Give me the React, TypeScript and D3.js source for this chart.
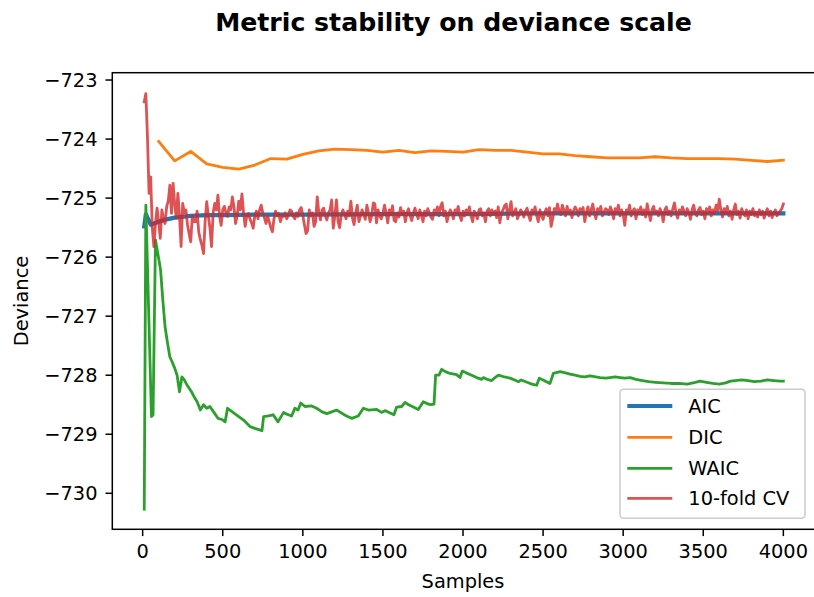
import React from "react";
import * as d3 from "d3";

const title = "Metric stability on deviance scale";
const xLabel = "Samples";
const yLabel = "Deviance";
const xTicks = [0, 500, 1000, 1500, 2000, 2500, 3000, 3500, 4000];
const yTicks = [-723, -724, -725, -726, -727, -728, -729, -730];
const seriesNames = ["AIC", "DIC", "WAIC", "10-fold CV"];
const seriesColors = ["#1f77b4", "#ff7f0e", "#2ca02c", "#d62728"];

const aicSamples = [10, 20, 50, 100, 150, 200, 300, 400, 500, 700, 1000, 1500, 2000, 2500, 3000, 3500, 4000];
const aicValues = [-725.48, -725.27, -725.45, -725.40, -725.36, -725.33, -725.30, -725.29, -725.29, -725.28, -725.28, -725.27, -725.27, -725.26, -725.26, -725.26, -725.26];

const dicSamples = d3.range(100, 4001, 100);
const dicValues = [
  -724.04, -724.37, -724.21, -724.42, -724.48, -724.51, -724.44, -724.33, -724.34, -724.26,
  -724.20, -724.17, -724.18, -724.19, -724.22, -724.19, -724.23, -724.20, -724.21, -724.22,
  -724.18, -724.19, -724.19, -724.22, -724.25, -724.25, -724.28, -724.30, -724.32, -724.32,
  -724.32, -724.30, -724.32, -724.33, -724.33, -724.33, -724.34, -724.36, -724.38, -724.36,
];

const waicSamples = [
  10, 20, 55, 65, 80, 105, 112, 125, 140, 155, 170, 185, 200, 215, 230, 245, 260, 280, 305, 320,
  340, 360, 380, 400, 420, 445, 470, 495, 515, 530, 560, 600, 630, 670, 710, 745, 755, 785, 815, 845,
  880, 900, 930, 950, 970, 987, 1013, 1055, 1086, 1120, 1150, 1180, 1211, 1253, 1280, 1305, 1346, 1378, 1409, 1461,
  1492, 1513, 1545, 1569, 1586, 1617, 1638, 1660, 1690, 1721, 1752, 1784, 1800, 1819, 1829, 1850, 1867, 1890, 1919, 1960,
  1981, 1996, 2020, 2054, 2085, 2117, 2127, 2150, 2179, 2200, 2221, 2260, 2294, 2330, 2346, 2363, 2400, 2430, 2460, 2476,
  2500, 2543, 2564, 2606, 2640, 2668, 2700, 2731, 2760, 2793, 2830, 2856, 2890, 2918, 2950, 2981, 3010, 3044, 3080, 3120,
  3160, 3200, 3250, 3300, 3350, 3400, 3450, 3480, 3520, 3560, 3600, 3640, 3670, 3700, 3740, 3780, 3820, 3860, 3900, 3940,
  3980, 4000,
];
const waicValues = [
  -730.27, -725.12, -728.70, -728.67, -725.71, -726.10, -726.22, -726.70, -727.18, -727.45, -727.69, -727.78, -727.88, -728.00, -728.28, -728.03, -728.08, -728.18, -728.28, -728.36,
  -728.45, -728.59, -728.50, -728.56, -728.53, -728.63, -728.73, -728.75, -728.79, -728.56, -728.62, -728.70, -728.76, -728.87, -728.91, -728.94, -728.70, -728.69, -728.67, -728.79,
  -728.63, -728.66, -728.69, -728.56, -728.59, -728.47, -728.53, -728.52, -728.56, -728.62, -728.65, -728.62, -728.59, -728.66, -728.70, -728.73, -728.69, -728.56, -728.59, -728.58,
  -728.63, -728.60, -728.64, -728.67, -728.54, -728.53, -728.46, -728.50, -728.54, -728.58, -728.45, -728.49, -728.50, -728.49, -728.00, -728.00, -727.90, -727.94, -727.97, -727.99,
  -728.04, -727.93, -727.96, -728.00, -728.04, -728.07, -728.04, -728.07, -728.09, -728.04, -728.00, -728.03, -728.05, -728.09, -728.11, -728.08, -728.12, -728.15, -728.17, -728.05,
  -728.08, -728.14, -727.97, -727.94, -727.96, -727.98, -728.00, -728.02, -728.03, -728.01, -728.03, -728.04, -728.05, -728.04, -728.03, -728.04, -728.05, -728.04, -728.07, -728.09,
  -728.11, -728.12, -728.13, -728.14, -728.14, -728.15, -728.12, -728.10, -728.12, -728.14, -728.15, -728.13, -728.10, -728.09, -728.08, -728.09, -728.11, -728.10, -728.08, -728.09,
  -728.10, -728.10,
];

const cvSamples = d3.range(10, 4001, 10);
const cvValues = [
  -723.37, -723.23, -723.96, -724.92, -724.64, -725.50, -725.82, -725.43, -725.17, -725.40,
  -725.68, -725.20, -725.35, -725.43, -725.14, -725.05, -724.78, -725.26, -724.75, -725.10,
  -725.34, -724.92, -725.30, -725.82, -725.09, -725.25, -725.20, -725.45, -725.60, -725.74,
  -725.30, -725.40, -725.40, -725.22, -725.57, -725.70, -725.80, -725.94, -725.40, -725.06,
  -725.30, -725.50, -725.82, -725.25, -725.09, -725.20, -724.95, -725.30, -725.46, -725.20,
  -725.14, -725.25, -725.31, -725.15, -725.20, -724.98, -725.15, -725.43, -725.30, -725.05,
  -725.20, -724.93, -725.25, -725.48, -725.30, -725.26, -725.35, -725.42, -725.51, -725.30,
  -725.22, -725.35, -725.20, -725.12, -725.25, -725.33, -725.43, -725.30, -725.40, -725.50,
  -725.57, -725.35, -725.22, -725.30, -725.26, -725.40, -725.30, -725.31, -725.25, -725.35,
  -725.28, -725.20, -725.22, -725.31, -725.35, -725.25, -725.31, -725.20, -725.16, -725.30,
  -725.45, -725.60, -725.55, -725.20, -725.30, -725.25, -725.48, -725.40, -724.98, -725.25,
  -725.37, -725.20, -725.17, -725.30, -725.37, -725.25, -725.20, -725.03, -725.51, -725.30,
  -725.03, -725.40, -725.50, -725.28, -725.20, -725.27, -725.35, -725.22, -725.30, -725.05,
  -725.34, -725.45, -725.25, -725.12, -725.40, -725.30, -725.20, -725.28, -725.36, -725.12,
  -725.25, -725.40, -725.30, -725.08, -725.10, -725.42, -725.20, -725.30, -725.35, -725.25,
  -725.12, -725.25, -725.42, -725.20, -725.28, -725.13, -725.38, -725.40, -725.25, -725.32,
  -725.16, -725.28, -725.22, -725.40, -725.25, -725.18, -725.30, -725.38, -725.25, -725.17,
  -725.26, -725.35, -725.20, -725.28, -725.40, -725.22, -725.30, -725.18, -725.25, -725.32,
  -725.36, -725.20, -725.25, -725.15, -725.30, -725.14, -725.08, -725.30, -725.22, -725.40,
  -725.28, -725.20, -725.25, -725.35, -725.20, -725.25, -725.14, -725.30, -725.38, -725.22,
  -725.30, -725.20, -725.26, -725.15, -725.30, -725.40, -725.22, -725.28, -725.35, -725.20,
  -725.18, -725.30, -725.25, -725.40, -725.22, -725.18, -725.30, -725.20, -725.27, -725.22,
  -725.33, -725.15, -725.42, -725.25, -725.20, -725.13, -725.10, -725.35, -725.20, -725.06,
  -725.30, -725.24, -725.18, -725.35, -725.28, -725.20, -725.24, -725.32, -725.22, -725.17,
  -725.30, -725.38, -725.20, -725.26, -725.15, -725.30, -725.40, -725.20, -725.30, -725.36,
  -725.25, -725.18, -725.30, -725.16, -725.48, -725.35, -725.18, -725.24, -725.10, -725.22,
  -725.28, -725.12, -725.20, -725.30, -725.14, -725.25, -725.20, -725.33, -725.22, -725.15,
  -725.20, -725.30, -725.18, -725.22, -725.16, -725.40, -725.25, -725.15, -725.30, -725.20,
  -725.10, -725.25, -725.35, -725.18, -725.22, -725.14, -725.30, -725.24, -725.18, -725.20,
  -725.28, -725.15, -725.22, -725.35, -725.18, -725.24, -725.12, -725.30, -725.20, -725.28,
  -725.46, -725.20, -725.25, -725.12, -725.30, -725.22, -725.18, -725.35, -725.20, -725.25,
  -725.15, -725.28, -725.20, -725.32, -725.10, -725.24, -725.38, -725.20, -725.14, -725.26,
  -725.22, -725.30, -725.18, -725.25, -725.40, -725.20, -725.15, -725.28, -725.22, -725.30,
  -725.18, -725.08, -725.25, -725.34, -725.20, -725.26, -725.15, -725.22, -725.30, -725.18,
  -725.24, -725.36, -725.20, -725.12, -725.25, -725.30, -725.20, -725.16, -725.28, -725.22,
  -725.35, -725.18, -725.25, -725.15, -725.30, -725.20, -725.26, -725.12, -725.22, -725.02,
  -725.20, -725.32, -725.18, -725.25, -725.14, -725.30, -725.22, -725.36, -725.20, -725.10,
  -725.28, -725.22, -725.34, -725.18, -725.25, -725.30, -725.20, -725.35, -725.22, -725.28,
  -725.18, -725.30, -725.24, -725.32, -725.20, -725.28, -725.22, -725.34, -725.25, -725.18,
  -725.30, -725.22, -725.33, -725.25, -725.20, -725.30, -725.26, -725.22, -725.18, -725.10,
];

const W = 814;
const H = 597;
const FONT = "DejaVu Sans, sans-serif";
const FS = 19.4;

export default function App() {
  const left = 112.3, right = 815.3, top = 72.7, bottom = 529.3;
  const x = d3.scaleLinear().domain([-189.5, 4199.5]).range([left, right]);
  const y = d3.scaleLinear().domain([-730.61, -722.876]).range([bottom, top]);

  const mk = (xs: number[], vs: number[]) =>
    d3.line<number>().x((_, i) => x(xs[i])).y((v) => y(v))(vs) || "";

  const series = [
    { d: mk(aicSamples, aicValues), w: 4.2, op: 1 },
    { d: mk(dicSamples, dicValues), w: 2.8, op: 1 },
    { d: mk(waicSamples, waicValues), w: 2.8, op: 1 },
    { d: mk(cvSamples, cvValues), w: 2.8, op: 0.8 },
  ];

  const legendY = [406, 437.3, 468.3, 498.3];

  return (
    <svg width={W} height={H} style={{ position: "absolute", left: 0, top: 0, background: "#fff" }} fontFamily={FONT}>
      <rect x={0} y={0} width={W} height={H} fill="#fff" />
      <defs>
        <clipPath id="plotclip">
          <rect x={left} y={top} width={right - left} height={bottom - top} />
        </clipPath>
      </defs>
      <g clipPath="url(#plotclip)">
        {series.map((s, i) => (
          <path key={i} d={s.d} fill="none" stroke={seriesColors[i]} strokeWidth={s.w} strokeOpacity={s.op} strokeLinejoin="round" strokeLinecap="square" />
        ))}
      </g>
      <rect x={left} y={top} width={right - left} height={bottom - top} fill="none" stroke="#000" strokeWidth={1.5} />
      {xTicks.map((t) => (
        <g key={t}>
          <line x1={x(t)} x2={x(t)} y1={bottom} y2={bottom + 6.8} stroke="#000" strokeWidth={1.5} />
          <text x={x(t)} y={557.5} textAnchor="middle" fontSize={FS} fill="#000">{t}</text>
        </g>
      ))}
      {yTicks.map((t) => (
        <g key={t}>
          <line x1={left} x2={left - 6.8} y1={y(t)} y2={y(t)} stroke="#000" strokeWidth={1.5} />
          <text x={97.5} y={y(t) + 7} textAnchor="end" fontSize={FS} fill="#000">{"\u2212" + Math.abs(t)}</text>
        </g>
      ))}
      <text x={x(2000)} y={588} textAnchor="middle" fontSize={FS} fill="#000">{xLabel}</text>
      <text transform={`translate(28,${(top + bottom) / 2}) rotate(-90)`} textAnchor="middle" fontSize={FS} fill="#000">{yLabel}</text>
      <text x={453.5} y={31} textAnchor="middle" fontSize={25.2} fontWeight="bold" fill="#000">{title}</text>
      <rect x={620} y={389.3} width={185} height={129} rx={3.5} fill="#fff" fillOpacity={0.8} stroke="#ccc" strokeWidth={1.5} />
      {seriesNames.map((n, i) => (
        <g key={n}>
          <line x1={627.3} x2={672.3} y1={legendY[i]} y2={legendY[i]} stroke={seriesColors[i]} strokeWidth={series[i].w} strokeOpacity={series[i].op} />
          <text x={688.3} y={legendY[i] + 7} fontSize={FS} fill="#000">{n}</text>
        </g>
      ))}
    </svg>
  );
}
